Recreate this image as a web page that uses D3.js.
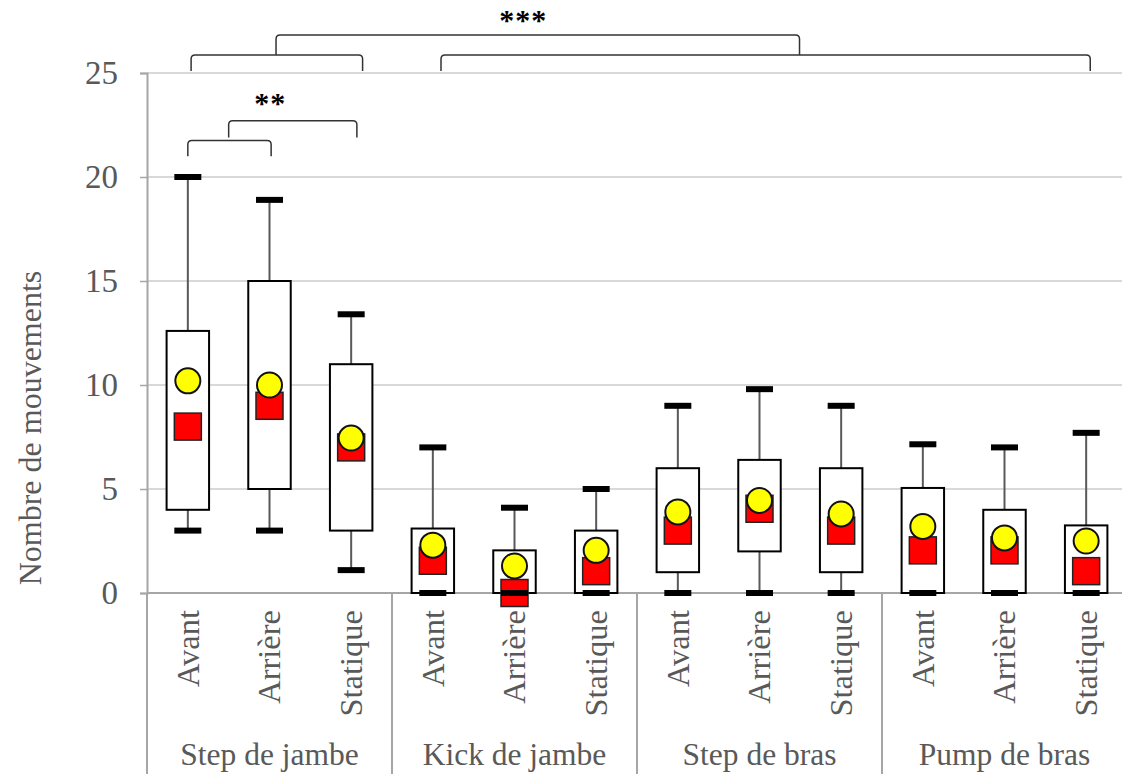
<!DOCTYPE html>
<html>
<head>
<meta charset="utf-8">
<script src="https://cdn.jsdelivr.net/npm/d3@7"></script>
<style>
  body { margin: 0; background: #fff; }
  svg { display: block; }
  text { font-family: "Liberation Serif", "Times New Roman", serif; fill: #595959; }
</style>
</head>
<body>
<svg id="chart" width="1122" height="774"></svg>
<script>
// categories
var groups = ['Step de jambe', 'Kick de jambe', 'Step de bras', 'Pump de bras'];
var conditions = ['Avant', 'Arrière', 'Statique'];

// values per box (4 groups x 3 conditions, in order)
var whiskerMax = [20, 18.9, 13.4, 7.0, 4.1, 5.0, 9.0, 9.8, 9.0, 7.15, 7.0, 7.7];
var q3Vals     = [12.6, 15.0, 11.0, 3.1, 2.05, 3.0, 6.0, 6.4, 6.0, 5.05, 4.0, 3.25];
var q1Vals     = [4, 5, 3, 0, 0, 0, 1, 2, 1, 0, 0, 0];
var whiskerMin = [3, 3, 1.1, 0, 0, 0, 0, 0, 0, 0, 0, 0];
var squareVals = [8.0, 9.0, 7.0, 1.55, 0, 1.05, 3.0, 4.05, 3.0, 2.05, 2.05, 1.05];
var circleVals = [10.2, 10.0, 7.45, 2.3, 1.3, 2.05, 3.9, 4.45, 3.8, 3.2, 2.65, 2.5];

var yTicks = [0, 5, 10, 15, 20, 25];

// significance brackets (positions in box index units, levels in y units)
var bracketFrom  = [0.04, 3.1, 1.08, 0.0, 0.5];
var bracketTo    = [2.14, 11.05, 7.49, 1.02, 2.07];
var bracketLevel = [25.87, 25.87, 26.83, 21.75, 22.7];
var bracketFoot  = [25.1, 25.1, 25.87, 21.0, 21.9];
var starLabels = ['***', '**'];
var starIndex  = [4.09, 0.99];
var starLevel  = [27.05, 23.1];

var boxes = [];
groups.forEach(function(g, gi) {
    conditions.forEach(function(c, ci) {
        var i = gi * 3 + ci;
        boxes.push({
            id: i, group: g, cond: c,
            max: whiskerMax[i], q3: q3Vals[i], q1: q1Vals[i], min: whiskerMin[i],
            sq: squareVals[i], circ: circleVals[i]
        });
    });
});

var svg = d3.select('#chart');
var plot = {l: 147, r: 1127, t: 73, b: 593};

var x = d3.scaleBand()
    .domain(boxes.map(function(d) { return d.id; }))
    .range([plot.l, plot.r]);
var xi = d3.scaleLinear().domain([-0.5, boxes.length - 0.5]).range([plot.l, plot.r]);
var y = d3.scaleLinear().domain([0, 25]).range([plot.b, plot.t]);

var boxW = x.bandwidth() * 0.52;
var capW = 27, capH = 6, sqSize = 27, circR = 12.5;

// gridlines
svg.append('g').selectAll('line')
    .data(yTicks.filter(function(t) { return t > 0; }))
    .enter().append('line')
    .attr('x1', plot.l).attr('x2', plot.r)
    .attr('y1', function(d) { return y(d); })
    .attr('y2', function(d) { return y(d); })
    .attr('stroke', '#d9d9d9').attr('stroke-width', 2);

// y axis
var yAxis = svg.append('g')
    .attr('transform', 'translate(' + plot.l + ',0)')
    .call(d3.axisLeft(y).tickValues(yTicks).tickSize(7).tickPadding(22));
yAxis.select('.domain').attr('stroke', '#a6a6a6').attr('stroke-width', 2);
yAxis.selectAll('.tick line').attr('stroke', '#a6a6a6').attr('stroke-width', 1.5);
yAxis.selectAll('.tick text')
    .style('font-family', '"Liberation Serif", "Times New Roman", serif')
    .style('font-size', '33px').attr('fill', '#595959');

// bottom axis and group separators
svg.append('line')
    .attr('x1', plot.l).attr('x2', plot.r)
    .attr('y1', plot.b).attr('y2', plot.b)
    .attr('stroke', '#a6a6a6').attr('stroke-width', 2);
var sepIdx = [-0.5, 2.5, 5.5, 8.5, 11.5];
svg.append('g').selectAll('line')
    .data(sepIdx).enter().append('line')
    .attr('x1', function(d) { return xi(d); })
    .attr('x2', function(d) { return xi(d); })
    .attr('y1', plot.b).attr('y2', 774)
    .attr('stroke', '#a6a6a6').attr('stroke-width', 2);

// y title
svg.append('text')
    .attr('transform', 'translate(30,' + 428 + ') rotate(-90)')
    .attr('text-anchor', 'middle')
    .attr('dy', '0.35em')
    .style('font-size', '32px')
    .text('Nombre de mouvements');

// condition labels
svg.append('g').selectAll('text')
    .data(boxes).enter().append('text')
    .attr('transform', function(d) {
        return 'translate(' + (x(d.id) + x.bandwidth() / 2) + ',' + 610 + ') rotate(-90)';
    })
    .attr('text-anchor', 'end')
    .attr('dy', '0.33em')
    .style('font-size', '32.5px')
    .text(function(d) { return d.cond; });

// group labels
svg.append('g').selectAll('text')
    .data(groups).enter().append('text')
    .attr('x', function(d, i) { return xi(i * 3 + 1); })
    .attr('y', 765)
    .attr('text-anchor', 'middle')
    .style('font-size', '31.5px')
    .text(function(d) { return d; });

// boxes
var bg = svg.append('g').selectAll('g')
    .data(boxes).enter().append('g')
    .attr('transform', function(d) { return 'translate(' + (x(d.id) + x.bandwidth() / 2) + ',0)'; });

bg.append('line')
    .attr('y1', function(d) { return y(d.max); })
    .attr('y2', function(d) { return y(d.min); })
    .attr('stroke', '#595959').attr('stroke-width', 2);

bg.append('rect')
    .attr('x', -boxW / 2).attr('width', boxW)
    .attr('y', function(d) { return y(d.q3); })
    .attr('height', function(d) { return y(d.q1) - y(d.q3); })
    .attr('fill', '#fff').attr('stroke', '#000').attr('stroke-width', 2);

bg.append('rect')
    .attr('x', -sqSize / 2).attr('width', sqSize)
    .attr('y', function(d) { return y(d.sq) - sqSize / 2; })
    .attr('height', sqSize)
    .attr('fill', '#ff0000').attr('stroke', '#222').attr('stroke-width', 1.5);

bg.append('circle')
    .attr('cy', function(d) { return y(d.circ); })
    .attr('r', circR)
    .attr('fill', '#ffff00').attr('stroke', '#111').attr('stroke-width', 2);

bg.selectAll('.cap')
    .data(function(d) { return [d.max, d.min]; })
    .enter().append('rect')
    .attr('class', 'cap')
    .attr('x', -capW / 2).attr('width', capW)
    .attr('y', function(v) { return y(v) - capH / 2; })
    .attr('height', capH)
    .attr('fill', '#000');

// significance brackets
var r = 4;
svg.append('g').selectAll('path')
    .data(bracketFrom.map(function(f, i) {
        return {x1: xi(f), x2: xi(bracketTo[i]), yl: y(bracketLevel[i]), yf: y(bracketFoot[i])};
    }))
    .enter().append('path')
    .attr('d', function(d) {
        return 'M' + d.x1 + ',' + d.yf +
            'L' + d.x1 + ',' + (d.yl + r) +
            'Q' + d.x1 + ',' + d.yl + ' ' + (d.x1 + r) + ',' + d.yl +
            'L' + (d.x2 - r) + ',' + d.yl +
            'Q' + d.x2 + ',' + d.yl + ' ' + d.x2 + ',' + (d.yl + r) +
            'L' + d.x2 + ',' + d.yf;
    })
    .attr('fill', 'none').attr('stroke', '#333').attr('stroke-width', 1.5);

svg.append('g').selectAll('text')
    .data(starLabels).enter().append('text')
    .attr('x', function(d, i) { return xi(starIndex[i]) + 1.5; })
    .attr('y', function(d, i) { return y(starLevel[i]); })
    .attr('text-anchor', 'middle')
    .style('font-size', '30px')
    .style('font-weight', 'bold')
    .style('letter-spacing', '1px')
    .style('fill', '#000')
    .text(function(d) { return d; });
</script>
</body>
</html>
